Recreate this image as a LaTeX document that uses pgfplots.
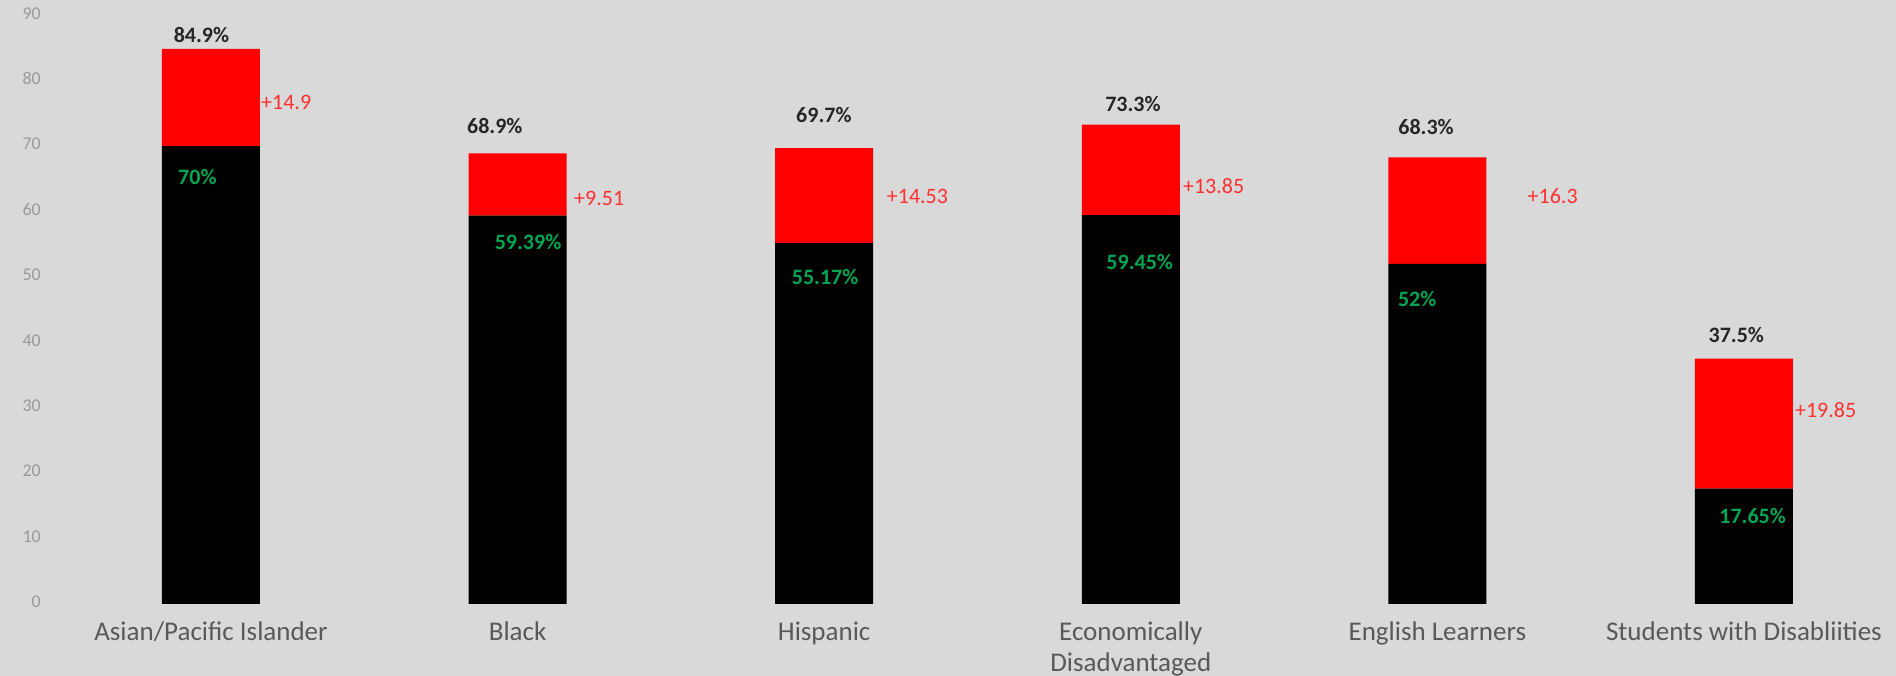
\documentclass[border=0pt]{standalone}
\usepackage{fontspec}
\setmainfont{Carlito}
\usepackage{pgfplots}
\pgfplotsset{compat=1.18}
\definecolor{bgc}{HTML}{D9D9D9}
\definecolor{barred}{HTML}{FF0000}
\definecolor{lblred}{HTML}{FF3030}
\definecolor{lblgreen}{HTML}{00A651}
\definecolor{tickgray}{HTML}{9A9A9A}
\definecolor{catgray}{HTML}{595959}
\definecolor{totgray}{HTML}{262626}
\tikzset{
  tot/.style={font=\fontsize{22}{26}\selectfont\bfseries, text=totgray, inner sep=0pt, anchor=center},
  grn/.style={font=\fontsize{22}{26}\selectfont\bfseries, text=lblgreen, inner sep=0pt, anchor=west},
  rd/.style={font=\fontsize{22}{26}\selectfont, text=lblred, inner sep=0pt, anchor=west},
}
\pgfplotsset{common/.style={
  at={(0pt,0pt)}, anchor=south west,
  scale only axis, width=1856pt, height=588.6pt,
  xmin=-0.5577, xmax=5.4958, ymin=0, ymax=90, clip=false}}
\begin{document}
\begin{tikzpicture}
\fill[bgc] (-40pt,-72pt) rectangle (1856pt,604pt);
\begin{axis}[
  common,
  ybar stacked, bar width=0.3196,
  axis line style={draw=none}, major tick length=0pt,
  ytick={0,10,...,90},
  /pgf/number format/assume math mode=true,
  yticklabel style={font=\fontsize{18}{21}\selectfont, text=tickgray, anchor=east, inner sep=0pt, xshift=1pt, yshift=2pt},
  xtick={0,1,2,3,4,5},
  xticklabels={{\strut Asian/Pacific Islander},{\strut Black},{\strut Hispanic},{\strut Economically\\Disadvantaged},{\strut English Learners},{\strut Students with Disabliities}},
  xticklabel style={font=\fontsize{27}{31}\selectfont, text=catgray, align=center, anchor=north, inner sep=0pt, yshift=-15pt},
]
\addplot[fill=black, draw=none] coordinates {(0,70) (1,59.39) (2,55.17) (3,59.45) (4,52) (5,17.65)};
\addplot[fill=barred, draw=none] coordinates {(0,14.9) (1,9.51) (2,14.53) (3,13.85) (4,16.3) (5,19.85)};
\end{axis}
\begin{axis}[common, hide axis]
\node[tot] at (axis cs:-0.031,87.0) {84.9\%};
\node[tot] at (axis cs:0.9256,73.09) {68.9\%};
\node[tot] at (axis cs:1.999,74.77) {69.7\%};
\node[tot] at (axis cs:3.007,76.45) {73.3\%};
\node[tot] at (axis cs:3.963,72.94) {68.3\%};
\node[tot] at (axis cs:4.975,41.13) {37.5\%};
\node[grn] at (axis cs:-0.1076,65.34) {70\%};
\node[grn] at (axis cs:0.925,55.40) {59.39\%};
\node[grn] at (axis cs:1.894,50.05) {55.17\%};
\node[grn] at (axis cs:2.920,52.34) {59.45\%};
\node[grn] at (axis cs:3.871,46.59) {52\%};
\node[grn] at (axis cs:4.919,13.46) {17.65\%};
\node[rd] at (axis cs:0.1631,76.65) {+14.9};
\node[rd] at (axis cs:1.184,62.03) {+9.51};
\node[rd] at (axis cs:2.204,62.39) {+14.53};
\node[rd] at (axis cs:3.170,63.91) {+13.85};
\node[rd] at (axis cs:4.294,62.39) {+16.3};
\node[rd] at (axis cs:5.166,29.66) {+19.85};
\end{axis}
\pgfresetboundingbox
\useasboundingbox (-40pt,-72pt) rectangle (1856pt,604pt);
\end{tikzpicture}
\end{document}
